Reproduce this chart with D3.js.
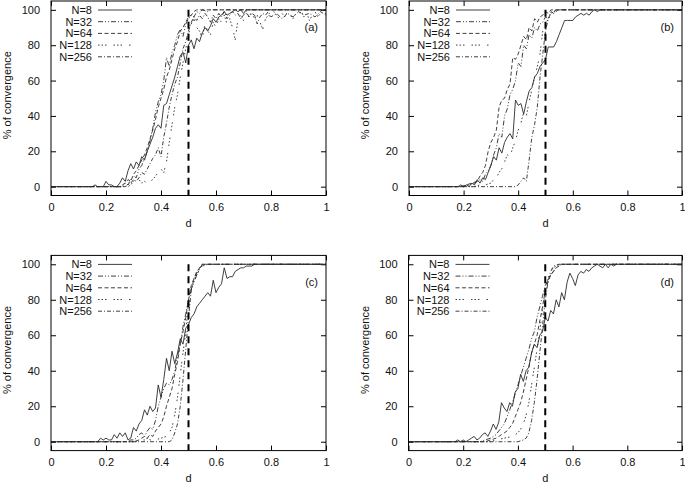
<!DOCTYPE html>
<html>
<head>
<meta charset="utf-8">
<script src="https://cdn.jsdelivr.net/npm/d3@7"></script>
<style>
  html, body { margin: 0; padding: 0; background: #fff; }
  svg { display: block; }
  text { font-family: "Liberation Sans", Arial, Helvetica, sans-serif; fill: #111; }
</style>
</head>
<body>
<svg id="chart" width="685" height="483"></svg>
<script>
// ---------- data ----------
const seriesNames = ["N=8", "N=32", "N=64", "N=128", "N=256"];
const panelLabels = ["(a)", "(b)", "(c)", "(d)"];
const xTickValues = [0, 0.2, 0.4, 0.6, 0.8, 1];
const xTickLabels = ["0", "0.2", "0.4", "0.6", "0.8", "1"];
const yTickValues = [0, 20, 40, 60, 80, 100];
const yTickLabels = ["0", "20", "40", "60", "80", "100"];
const thresholdD = 0.5;
const xTitle = "d";
const yTitle = "% of convergence";

// panel (a)
const a_N8 = [[0,0],[0.15,0],[0.16,1],[0.17,0],[0.19,0],[0.2,3],[0.21,1],[0.22,1],[0.23,0],[0.24,0],[0.25,2],[0.26,5],[0.27,3],[0.28,9],[0.29,13],[0.30,10],[0.31,14],[0.32,12],[0.33,17],[0.34,15],[0.35,20],[0.36,24],[0.37,28],[0.38,33],[0.39,35],[0.40,33],[0.41,46],[0.42,47],[0.43,52],[0.44,57],[0.45,62],[0.46,68],[0.47,74],[0.48,76],[0.49,70],[0.50,80],[0.51,83],[0.52,78],[0.53,84],[0.54,82],[0.55,87],[0.56,90],[0.57,88],[0.58,91],[0.59,95],[0.60,93],[0.61,96],[0.62,97],[0.63,99],[0.64,97],[0.65,98],[0.66,99],[0.67,100],[0.68,99],[0.69,100],[0.70,98],[0.71,100],[1,100]];
const a_N32 = [[0,0],[0.26,0],[0.27,2],[0.28,1],[0.29,4],[0.30,6],[0.31,5],[0.32,10],[0.33,12],[0.34,16],[0.35,20],[0.36,26],[0.37,33],[0.38,42],[0.39,48],[0.40,52],[0.41,60],[0.42,73],[0.43,68],[0.44,76],[0.45,80],[0.46,86],[0.47,89],[0.48,85],[0.49,92],[0.50,95],[0.51,97],[0.52,96],[0.53,99],[0.54,98],[0.55,100],[0.57,99],[0.58,100],[1,100]];
const a_N64 = [[0,0],[0.25,0],[0.26,1],[0.27,2],[0.28,4],[0.29,3],[0.30,7],[0.31,9],[0.32,12],[0.33,15],[0.34,18],[0.35,22],[0.36,27],[0.37,32],[0.38,38],[0.39,45],[0.40,50],[0.41,55],[0.42,62],[0.43,66],[0.44,72],[0.45,78],[0.46,82],[0.47,88],[0.48,90],[0.49,93],[0.50,96],[0.51,97],[0.52,99],[0.53,100],[1,100]];
const a_N128 = [[0,0],[0.28,0],[0.29,1],[0.30,3],[0.31,5],[0.32,4],[0.33,2],[0.34,3],[0.35,2],[0.36,3],[0.37,4],[0.38,6],[0.39,8],[0.40,10],[0.41,8],[0.42,14],[0.43,25],[0.44,35],[0.45,45],[0.46,52],[0.47,62],[0.48,70],[0.49,78],[0.50,86],[0.51,92],[0.52,95],[0.53,90],[0.54,88],[0.55,84],[0.56,92],[0.57,88],[0.58,86],[0.59,93],[0.60,90],[0.61,95],[0.62,93],[0.63,97],[0.64,92],[0.65,95],[0.66,90],[0.67,83],[0.68,95],[0.69,97],[0.70,94],[0.71,98],[0.72,96],[0.73,99],[0.74,95],[0.75,97],[0.76,93],[0.77,89],[0.78,95],[0.79,97],[0.80,96],[0.81,99],[0.82,97],[0.83,95],[0.84,98],[0.85,96],[0.86,99],[0.87,97],[0.88,95],[0.89,98],[0.90,97],[0.91,99],[0.92,96],[0.93,98],[0.94,94],[0.95,97],[0.96,99],[0.97,96],[0.98,98],[0.99,97],[1,98]];
const a_N256 = [[0,0],[0.27,0],[0.28,1],[0.29,2],[0.30,4],[0.31,3],[0.32,5],[0.33,8],[0.34,7],[0.35,10],[0.36,13],[0.37,16],[0.38,18],[0.39,22],[0.40,17],[0.41,28],[0.42,36],[0.43,45],[0.44,52],[0.45,58],[0.46,62],[0.47,70],[0.48,78],[0.49,82],[0.50,88],[0.51,93],[0.52,96],[0.53,94],[0.54,97],[0.55,95],[0.56,98],[0.57,96],[0.58,93],[0.59,97],[0.60,95],[0.61,98],[0.62,96],[0.63,99],[0.64,95],[0.65,97],[0.66,99],[0.67,97],[0.68,98],[0.69,95],[0.70,97],[0.71,99],[0.72,96],[0.73,98],[0.74,97],[0.75,92],[0.76,96],[0.77,98],[0.78,97],[0.79,99],[0.80,96],[0.82,98],[0.84,95],[0.86,98],[0.88,96],[0.90,99],[0.92,97],[0.94,98],[0.96,96],[0.98,99],[1,97]];

// panel (b)
const b_N8 = [[0,0],[0.18,0],[0.19,1],[0.20,0],[0.21,1],[0.22,0],[0.23,2],[0.24,1],[0.25,4],[0.26,2],[0.27,5],[0.28,4],[0.29,8],[0.30,12],[0.31,17],[0.32,15],[0.33,22],[0.34,19],[0.35,25],[0.36,28],[0.37,30],[0.38,27],[0.39,49],[0.40,46],[0.41,47],[0.42,41],[0.43,48],[0.44,54],[0.45,56],[0.46,62],[0.47,64],[0.48,68],[0.49,70],[0.50,72],[0.51,79],[0.52,79],[0.53,79],[0.54,82],[0.55,86],[0.56,90],[0.57,94],[0.58,94],[0.59,94],[0.60,94],[0.61,96],[0.62,97],[0.63,98],[0.64,97],[0.65,98],[0.66,97],[0.67,99],[0.68,100],[0.69,99],[0.70,100],[1,100]];
const b_N32 = [[0,0],[0.20,0],[0.22,1],[0.24,2],[0.26,4],[0.27,3],[0.28,7],[0.29,9],[0.30,12],[0.31,18],[0.32,22],[0.33,30],[0.34,28],[0.35,40],[0.36,44],[0.37,52],[0.38,55],[0.39,60],[0.40,70],[0.41,68],[0.42,80],[0.43,78],[0.44,86],[0.45,84],[0.46,90],[0.47,88],[0.48,92],[0.49,93],[0.50,96],[0.51,95],[0.52,99],[0.53,98],[0.55,100],[1,100]];
const b_N64 = [[0,0],[0.19,0],[0.21,1],[0.23,2],[0.25,3],[0.26,6],[0.27,8],[0.28,12],[0.29,20],[0.30,25],[0.31,28],[0.32,32],[0.33,45],[0.34,49],[0.35,50],[0.36,55],[0.37,58],[0.38,73],[0.39,72],[0.40,75],[0.41,80],[0.42,85],[0.43,83],[0.44,90],[0.45,88],[0.46,95],[0.47,93],[0.48,96],[0.49,97],[0.50,99],[0.51,98],[0.52,100],[1,100]];
const b_N128 = [[0,0],[0.24,0],[0.26,1],[0.28,1],[0.30,2],[0.31,4],[0.32,5],[0.33,8],[0.34,10],[0.35,14],[0.36,18],[0.37,17],[0.38,22],[0.39,26],[0.40,32],[0.41,36],[0.42,42],[0.43,40],[0.44,48],[0.45,55],[0.46,62],[0.47,68],[0.48,75],[0.49,88],[0.50,92],[0.51,95],[0.52,97],[0.53,99],[0.55,100],[1,100]];
const b_N256 = [[0,0],[0.39,0],[0.40,1],[0.41,3],[0.42,5],[0.43,3],[0.44,15],[0.45,28],[0.46,35],[0.47,45],[0.48,62],[0.49,75],[0.50,88],[0.51,95],[0.52,98],[0.53,99],[0.54,100],[1,100]];

// panel (c)
const c_N8 = [[0,0],[0.17,0],[0.18,2],[0.19,1],[0.20,2],[0.21,1],[0.22,1],[0.23,4],[0.24,2],[0.25,5],[0.26,3],[0.27,5],[0.28,1],[0.29,2],[0.30,8],[0.31,6],[0.32,10],[0.33,12],[0.34,18],[0.35,15],[0.36,20],[0.37,17],[0.38,19],[0.39,32],[0.40,25],[0.41,35],[0.42,47],[0.43,40],[0.44,51],[0.45,44],[0.46,50],[0.47,58],[0.48,55],[0.49,64],[0.50,66],[0.51,70],[0.52,72],[0.53,76],[0.54,78],[0.55,80],[0.56,82],[0.57,84],[0.58,82],[0.59,91],[0.60,84],[0.61,87],[0.62,89],[0.63,98],[0.64,92],[0.65,93],[0.66,93],[0.67,96],[0.68,97],[0.69,98],[0.70,98],[0.71,99],[0.72,99],[0.73,99],[0.74,100],[1,100]];
const c_N32 = [[0,0],[0.28,0],[0.29,1],[0.30,1],[0.31,2],[0.32,4],[0.33,5],[0.34,3],[0.35,6],[0.36,8],[0.37,7],[0.38,12],[0.39,20],[0.40,25],[0.41,30],[0.42,33],[0.43,32],[0.44,35],[0.45,40],[0.46,48],[0.47,55],[0.48,65],[0.49,72],[0.50,80],[0.51,86],[0.52,90],[0.53,94],[0.54,97],[0.55,100],[1,100]];
const c_N64 = [[0,0],[0.30,0],[0.32,1],[0.33,2],[0.34,3],[0.35,2],[0.36,4],[0.37,3],[0.38,6],[0.39,8],[0.40,10],[0.41,14],[0.42,20],[0.43,25],[0.44,30],[0.45,38],[0.46,45],[0.47,55],[0.48,62],[0.49,70],[0.50,80],[0.51,88],[0.52,92],[0.53,95],[0.54,98],[0.55,100],[1,100]];
const c_N128 = [[0,0],[0.31,0],[0.32,1],[0.34,1],[0.35,2],[0.36,1],[0.38,1],[0.40,2],[0.42,3],[0.43,5],[0.44,8],[0.45,15],[0.46,25],[0.47,38],[0.48,50],[0.49,62],[0.50,78],[0.51,86],[0.52,90],[0.53,94],[0.54,97],[0.55,99],[0.57,100],[1,100]];
const c_N256 = [[0,0],[0.43,0],[0.44,1],[0.45,5],[0.46,10],[0.47,20],[0.48,35],[0.49,52],[0.50,70],[0.51,85],[0.52,92],[0.53,96],[0.54,98],[0.55,99],[0.56,100],[1,100]];

// panel (d)
const d_N8 = [[0,0],[0.17,0],[0.18,1],[0.19,0],[0.20,1],[0.21,0],[0.22,1],[0.23,2],[0.24,3],[0.25,1],[0.26,2],[0.27,4],[0.28,5],[0.29,3],[0.30,6],[0.31,10],[0.32,7],[0.33,11],[0.34,22],[0.35,19],[0.36,17],[0.37,22],[0.38,20],[0.39,28],[0.40,30],[0.41,38],[0.42,34],[0.43,40],[0.44,42],[0.45,50],[0.46,55],[0.47,53],[0.48,60],[0.49,62],[0.50,70],[0.51,68],[0.52,74],[0.53,72],[0.54,80],[0.55,76],[0.56,84],[0.57,80],[0.58,90],[0.59,95],[0.60,92],[0.61,88],[0.62,94],[0.63,96],[0.64,95],[0.65,97],[0.66,96],[0.67,98],[0.68,99],[0.69,100],[0.70,99],[0.71,98],[0.72,100],[0.73,98],[0.74,100],[0.75,99],[0.76,100],[1,100]];
const d_N32 = [[0,0],[0.26,0],[0.28,1],[0.30,2],[0.31,3],[0.32,4],[0.33,6],[0.34,8],[0.35,10],[0.36,14],[0.37,18],[0.38,22],[0.39,27],[0.40,32],[0.41,37],[0.42,42],[0.43,47],[0.44,52],[0.45,58],[0.46,62],[0.47,70],[0.48,76],[0.49,82],[0.50,88],[0.51,91],[0.52,94],[0.53,96],[0.54,98],[0.55,99],[0.56,100],[1,100]];
const d_N64 = [[0,0],[0.28,0],[0.30,1],[0.32,2],[0.33,3],[0.34,4],[0.35,5],[0.36,6],[0.37,8],[0.38,10],[0.39,14],[0.40,18],[0.41,22],[0.42,28],[0.43,35],[0.44,42],[0.45,50],[0.46,55],[0.47,60],[0.48,68],[0.49,76],[0.50,85],[0.51,90],[0.52,94],[0.53,96],[0.54,98],[0.56,100],[1,100]];
const d_N128 = [[0,0],[0.30,0],[0.32,1],[0.35,2],[0.38,3],[0.40,5],[0.41,7],[0.42,10],[0.43,15],[0.44,22],[0.45,32],[0.46,42],[0.47,52],[0.48,62],[0.49,75],[0.50,85],[0.51,92],[0.52,96],[0.53,98],[0.54,99],[0.55,100],[1,100]];
const d_N256 = [[0,0],[0.40,0],[0.42,1],[0.43,2],[0.44,5],[0.45,12],[0.46,22],[0.47,35],[0.48,50],[0.49,65],[0.50,80],[0.51,90],[0.52,96],[0.53,99],[0.55,100],[1,100]];

const panelSeries = [
  [a_N8, a_N32, a_N64, a_N128, a_N256],
  [b_N8, b_N32, b_N64, b_N128, b_N256],
  [c_N8, c_N32, c_N64, c_N128, c_N256],
  [d_N8, d_N32, d_N64, d_N128, d_N256]
];

// ---------- layout & style ----------
const panelBoxes = [
  {left: 51,    right: 326, top: 1,     bottom: 195.5},
  {left: 409,   right: 682, top: 1,     bottom: 195.5},
  {left: 51,    right: 326, top: 255.4, bottom: 450.6},
  {left: 408.5, right: 682, top: 255.4, bottom: 450.6}
];
const dashStyles = ["none", "5,2,1,2,1,2", "4,2.5", "1.5,2,1.5,2,1.5,7", "4,2,1,2"];
const lineColor = "#2a2a2a";
const fontSize = 11;

const svg = d3.select("#chart");
svg.append("rect").attr("width", 685).attr("height", 483).attr("fill", "#fff");

panelBoxes.forEach((box, pi) => {
  const x = d3.scaleLinear().domain([0, 1]).range([box.left, box.right]);
  const y = d3.scaleLinear().domain([-5, 105]).range([box.bottom, box.top]);
  const g = svg.append("g");

  const styleAxis = (sel, showText) => {
    sel.select(".domain").remove();
    sel.selectAll(".tick line").attr("stroke", "#000").attr("stroke-width", 1);
    sel.selectAll(".tick text").style("font-size", fontSize + "px").attr("fill", "#111");
    if (!showText) sel.selectAll(".tick text").remove();
  };

  // axes (inward ticks on all four sides)
  g.append("g").attr("transform", `translate(${box.left},0)`)
    .call(d3.axisLeft(y).tickValues(yTickValues).tickFormat((d, i) => yTickLabels[i]).tickSize(-5).tickPadding(11))
    .call(s => styleAxis(s, true));
  g.append("g").attr("transform", `translate(${box.right},0)`)
    .call(d3.axisRight(y).tickValues(yTickValues).tickSize(-5))
    .call(s => styleAxis(s, false));
  g.append("g").attr("transform", `translate(0,${box.bottom})`)
    .call(d3.axisBottom(x).tickValues(xTickValues).tickFormat((d, i) => xTickLabels[i]).tickSize(-5).tickPadding(8))
    .call(s => styleAxis(s, true));
  g.append("g").attr("transform", `translate(0,${box.top})`)
    .call(d3.axisTop(x).tickValues(xTickValues).tickSize(-5))
    .call(s => styleAxis(s, false));

  // clip
  const clipId = "clip" + pi;
  svg.append("clipPath").attr("id", clipId).append("rect")
    .attr("x", box.left).attr("y", box.top)
    .attr("width", box.right - box.left).attr("height", box.bottom - box.top);

  const line = d3.line().x(p => x(p[0])).y(p => y(p[1]));
  const plot = g.append("g").attr("clip-path", `url(#${clipId})`);
  panelSeries[pi].forEach((data, si) => {
    plot.append("path").datum(data)
      .attr("d", line)
      .attr("fill", "none")
      .attr("stroke", lineColor)
      .attr("stroke-width", 0.9)
      .attr("stroke-dasharray", dashStyles[si]);
  });

  // threshold line
  plot.append("line")
    .attr("x1", x(thresholdD)).attr("x2", x(thresholdD))
    .attr("y1", y(100)).attr("y2", y(-5))
    .attr("stroke", "#000").attr("stroke-width", 2)
    .attr("stroke-dasharray", "7,5");

  // frame
  g.append("rect")
    .attr("x", box.left).attr("y", box.top)
    .attr("width", box.right - box.left).attr("height", box.bottom - box.top)
    .attr("fill", "none").attr("stroke", "#000").attr("stroke-width", 1);

  // legend
  seriesNames.forEach((name, si) => {
    const ly = box.top + 9 + si * 11.7;
    g.append("text")
      .attr("x", box.left + 41).attr("y", ly + 4)
      .attr("text-anchor", "end")
      .style("font-size", fontSize + "px")
      .text(name);
    g.append("line")
      .attr("x1", box.left + 47).attr("x2", box.left + 81)
      .attr("y1", ly).attr("y2", ly)
      .attr("stroke", lineColor).attr("stroke-width", 0.9)
      .attr("stroke-dasharray", dashStyles[si]);
  });

  // panel label
  g.append("text")
    .attr("x", box.right - 8).attr("y", y(88))
    .attr("text-anchor", "end")
    .style("font-size", fontSize + "px")
    .text(panelLabels[pi]);

  // axis titles
  g.append("text")
    .attr("x", (box.left + box.right) / 2).attr("y", box.bottom + 31)
    .attr("text-anchor", "middle")
    .style("font-size", fontSize + "px")
    .text(xTitle);
  g.append("text")
    .attr("transform", `translate(${box.left - 40},${(box.top + box.bottom) / 2 - 3}) rotate(-90)`)
    .attr("text-anchor", "middle")
    .style("font-size", fontSize + "px")
    .text(yTitle);
});
</script>
</body>
</html>
